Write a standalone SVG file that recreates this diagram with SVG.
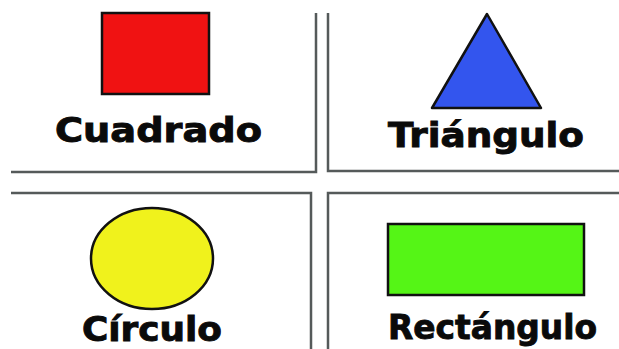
<svg xmlns="http://www.w3.org/2000/svg" width="619" height="349" viewBox="0 0 619 349">
<style>
.frame{fill:none;stroke:#555a5a;stroke-width:2.5}
.shape{stroke:#111;stroke-width:2.5}
.lbl{font-family:"DejaVu Sans","Liberation Sans",sans-serif;font-weight:bold;fill:#0a0a0a;stroke:#0a0a0a;stroke-width:0.9;font-size:33px}
</style>
<rect width="619" height="349" fill="#ffffff"/>
<g id="frames">
<polyline class="frame" points="11,172 316,172 316,13"/>
<polyline class="frame" points="328,13 328,171 619,171"/>
<polyline class="frame" points="11,193 311,193 311,349"/>
<polyline class="frame" points="328,349 328,193 619,193"/>
</g>
<g id="cuadrado">
<rect class="shape" x="102" y="13" width="107" height="81" fill="#f01212"/>
<text class="lbl" x="55" y="142" textLength="207" lengthAdjust="spacingAndGlyphs">Cuadrado</text>
</g>
<g id="triangulo">
<polygon class="shape" points="487,14 541,108 432,108" fill="#3355ee" stroke-linejoin="round"/>
<text class="lbl" x="388" y="147" textLength="196" lengthAdjust="spacingAndGlyphs">Triángulo</text>
</g>
<g id="circulo">
<ellipse class="shape" cx="152" cy="258.5" rx="61" ry="50.5" fill="#f0f21c"/>
<text class="lbl" x="82" y="341" textLength="140" lengthAdjust="spacingAndGlyphs">Círculo</text>
</g>
<g id="rectangulo">
<rect class="shape" x="388" y="224" width="196" height="71" fill="#55f516"/>
<text class="lbl" x="388" y="339" textLength="209" lengthAdjust="spacingAndGlyphs">Rectángulo</text>
</g>
</svg>
